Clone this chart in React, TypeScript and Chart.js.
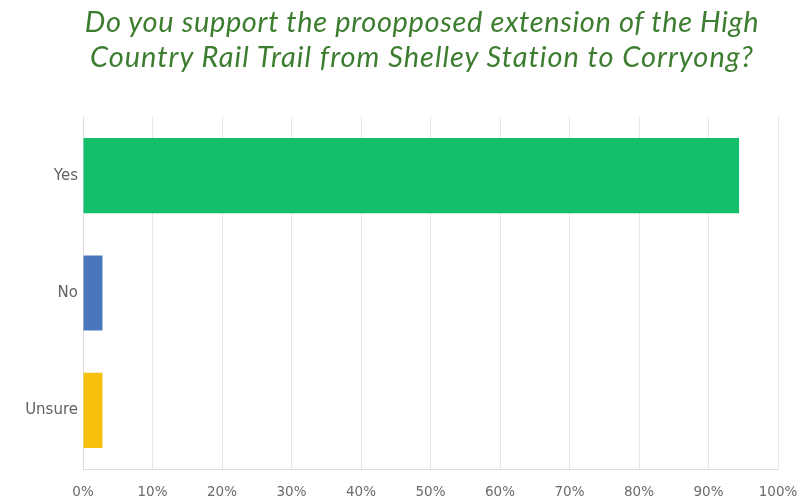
import React, { useEffect, useRef } from "react";
import { Chart, registerables } from "chart.js";

Chart.register(...registerables);

const categories = ["Yes", "No", "Unsure"];
const values = [94.4, 2.8, 2.8];
const barColors = ["#14bf6c", "#4a76bd", "#f6c00b"];
const xTicks = [0, 10, 20, 30, 40, 50, 60, 70, 80, 90, 100];
const titleLines = [
  "Do you support the proopposed extension of the High",
  "Country Rail Trail from Shelley Station to Corryong?",
];
const titleSpacing = ["0.65px", "1.0px"];

export default function App() {
  const ref = useRef<HTMLCanvasElement | null>(null);

  useEffect(() => {
    document.body.style.margin = "0";
    const ctx = ref.current;
    if (!ctx) return;
    const chart = new Chart(ctx, {
      type: "bar",
      data: {
        labels: categories,
        datasets: [
          {
            data: values,
            backgroundColor: barColors,
            borderWidth: 0,
            barPercentage: 0.64,
            categoryPercentage: 1,
          },
        ],
      },
      options: {
        indexAxis: "y",
        animation: false,
        responsive: false,
        maintainAspectRatio: false,
        layout: { padding: { top: 117, right: 22, bottom: 0, left: 0 } },
        plugins: {
          legend: { display: false },
          tooltip: { enabled: false },
          title: { display: false },
        },
        scales: {
          x: {
            min: 0,
            max: 100,
            afterBuildTicks: (scale: any) => {
              scale.ticks = xTicks.map((v) => ({ value: v }));
            },
            afterFit: (scale: any) => {
              scale.height = 34;
              scale.paddingLeft = 0;
              scale.paddingRight = 0;
            },
            ticks: {
              callback: (v: any) => v + "%",
              color: "#6a6a6a",
              font: { family: "'DejaVu Sans', sans-serif", size: 13.5 },
              padding: 15,
              maxRotation: 0,
              autoSkip: false,
            },
            grid: {
              color: "#e6e6e6",
              lineWidth: 1,
              drawTicks: false,
            },
            border: { color: "#dcdcdc" },
          },
          y: {
            afterFit: (scale: any) => {
              scale.width = 83;
            },
            ticks: {
              color: "#626262",
              font: { family: "'DejaVu Sans', sans-serif", size: 15 },
              padding: 5,
            },
            grid: { display: false, drawTicks: false },
            border: { color: "#dcdcdc" },
          },
        },
      },
    });
    return () => chart.destroy();
  }, []);

  return (
    <div style={{ position: "absolute", left: 0, top: 0, width: 800, height: 503 }}>
      <canvas ref={ref} width={800} height={503} style={{ display: "block" }} />
      <div
        style={{
          position: "absolute",
          left: 33,
          top: 3,
          width: 778,
          textAlign: "center",
          fontFamily: "Lato, 'Open Sans', sans-serif",
          fontStyle: "italic",
          fontSize: 29,
          lineHeight: "35px",
          color: "#3d7d30",
        }}
      >
        {titleLines.map((l, i) => (
          <div key={i} style={{ letterSpacing: titleSpacing[i] }}>
            {l}
          </div>
        ))}
      </div>
    </div>
  );
}
